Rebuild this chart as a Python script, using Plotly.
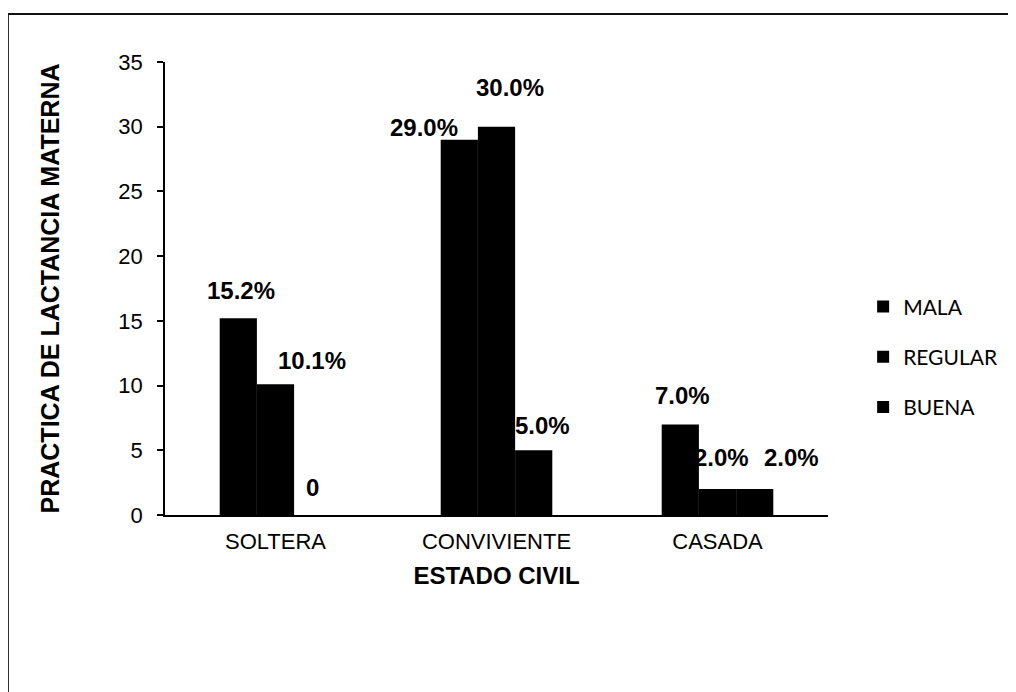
import plotly.graph_objects as go

categories = ["SOLTERA", "CONVIVIENTE", "CASADA"]
series_names = ["MALA", "REGULAR", "BUENA"]
mala = [15.2, 29.0, 7.0]
regular = [10.1, 30.0, 2.0]
buena = [0, 5.0, 2.0]
label_mala = ["15.2%", "29.0%", "7.0%"]
label_regular = ["10.1%", "30.0%", "2.0%"]
label_buena = ["0", "5.0%", "2.0%"]
y_ticks = [0, 5, 10, 15, 20, 25, 30, 35]

values = [mala, regular, buena]
labels = [label_mala, label_regular, label_buena]

# label nudges in pixels (style): [series][category] -> (dx, dy)
nudges = [
    [(-35, 28), (-73, 12), (-35, 29)],
    [(36, 24), (13, 39), (4, 32)],
    [(37, 28), (46, 25), (74, 32)],
]

FONT = "Liberation Sans, Arial, sans-serif"

fig = go.Figure()
for i, (name, vals) in enumerate(zip(series_names, values)):
    fig.add_trace(go.Bar(
        x=categories, y=vals, name=name,
        marker=dict(color="#000000", line=dict(width=0)),
        legendgroup=name,
    ))

annotations = []
for i in range(3):
    for j, cat in enumerate(categories):
        dx, dy = nudges[i][j]
        annotations.append(dict(
            x=cat, y=values[i][j], xref="x", yref="y",
            text="<b>%s</b>" % labels[i][j], showarrow=False,
            xshift=dx, yshift=dy, xanchor="center", yanchor="middle",
            font=dict(family=FONT, size=24, color="#000000"),
        ))

fig.update_layout(
    width=1016, height=692,
    margin=dict(l=157, r=196, t=54, b=185),
    paper_bgcolor="white", plot_bgcolor="white",
    barmode="group", bargap=0.495, bargroupgap=0,
    font=dict(family=FONT, color="#000000"),
    annotations=annotations,
    legend=dict(
        x=1.053, xanchor="left", y=0.505, yanchor="top",
        font=dict(family="Lato, Open Sans, sans-serif", size=21, color="#000000"),
        traceorder="grouped", tracegroupgap=20,
        bgcolor="rgba(0,0,0,0)",
    ),
    showlegend=True,
    shapes=[
        dict(type="line", xref="paper", yref="paper", x0=-0.237, x1=1.3, y0=1.106, y1=1.106,
             line=dict(color="#111111", width=2)),
        dict(type="line", xref="paper", yref="paper", x0=-0.237, x1=-0.237, y0=1.106, y1=-0.4,
             line=dict(color="#111111", width=2)),
    ],
)

fig.update_yaxes(
    range=[0, 35], tickvals=y_ticks, ticks="outside", ticklen=6, tickwidth=1.5,
    tickcolor="#000000", showline=True, linecolor="#000000", linewidth=1.5,
    showgrid=False, zeroline=False, ticklabelstandoff=10,
    tickfont=dict(family=FONT, size=22, color="#000000"),
    title=dict(text="<b>PRACTICA DE LACTANCIA MATERNA</b>", standoff=52,
               font=dict(family=FONT, size=25, color="#000000")),
)
fig.update_xaxes(
    showline=True, linecolor="#000000", linewidth=1.5, ticks="",
    showgrid=False, ticklabelstandoff=6,
    tickfont=dict(family=FONT, size=22, color="#000000"),
    title=dict(text="<b>ESTADO CIVIL</b>", standoff=14,
               font=dict(family=FONT, size=24, color="#000000")),
)

fig.write_html("out.html")
